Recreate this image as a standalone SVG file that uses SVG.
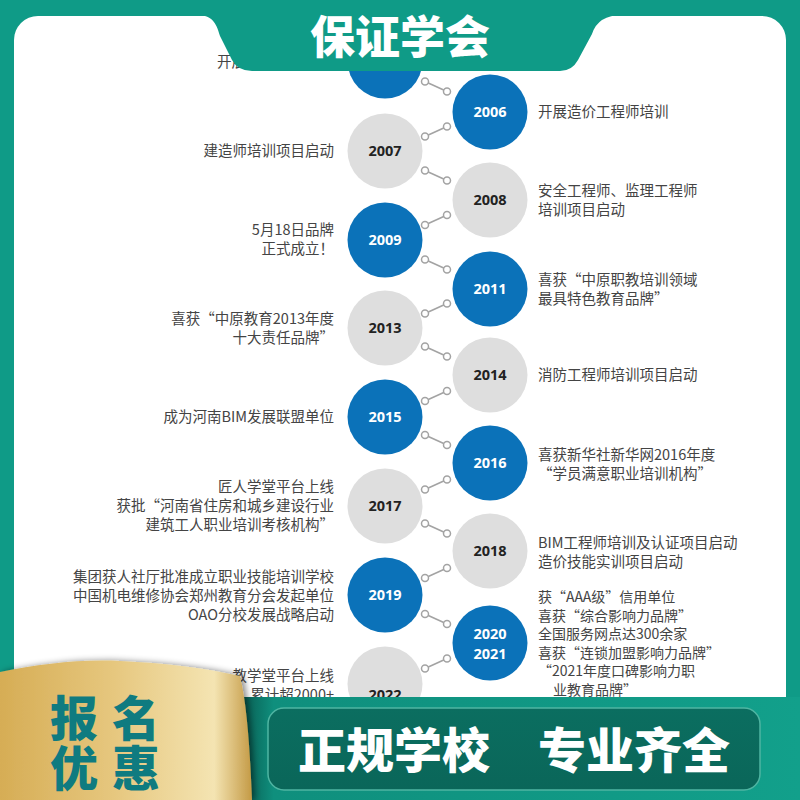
<svg xmlns="http://www.w3.org/2000/svg" width="800" height="800" viewBox="0 0 800 800">
<defs>
<style>
.t{font-family:"Noto Sans CJK SC","Noto Sans",sans-serif;font-size:14.5px;fill:#444}
.s{font-size:14px}
.l{text-anchor:end}
.y{font-family:"Open Sans","DejaVu Sans",sans-serif;font-size:14.5px;font-weight:700;text-anchor:middle}
.yb{fill:#fff}
.yg{fill:#222}
.cb{fill:#0b72b9}
.cg{fill:#dedede}
.lk line{stroke:#a3a3a3;stroke-width:1.6}
.lk circle{fill:#fff;stroke:#a3a3a3;stroke-width:1.5}
.big{font-family:"Noto Sans CJK SC",sans-serif;font-weight:900}
</style>
<linearGradient id="gold" x1="0" y1="0" x2="1" y2="0">
<stop offset="0" stop-color="#d6ad55"/>
<stop offset="0.45" stop-color="#e6c77e"/>
<stop offset="0.85" stop-color="#f4e4b2"/>
<stop offset="1" stop-color="#c49a45"/>
</linearGradient>
<linearGradient id="band" x1="0" y1="0" x2="1" y2="0">
<stop offset="0" stop-color="#08594f"/>
<stop offset="0.06" stop-color="#0f8f7d"/>
<stop offset="1" stop-color="#12a08b"/>
</linearGradient>
<linearGradient id="inner" x1="0" y1="0" x2="0" y2="1">
<stop offset="0" stop-color="#0b6e60"/>
<stop offset="1" stop-color="#0a6659"/>
</linearGradient>
<filter id="sh" x="-10%" y="-10%" width="130%" height="130%">
<feDropShadow dx="3" dy="0" stdDeviation="3" flood-color="#000" flood-opacity="0.45"/>
</filter>
</defs>

<rect x="0" y="0" width="800" height="800" fill="#0f9b87"/>
<rect x="14" y="16" width="772" height="820" rx="24" fill="#fff"/>

<g id="connectors" class="lk">
<g><line x1="425" y1="81.5" x2="447" y2="91.5"/><circle cx="425" cy="81.5" r="3.5"/><circle cx="447" cy="91.5" r="3.5"/></g>
<g><line x1="447" y1="126.5" x2="425" y2="136.5"/><circle cx="447" cy="126.5" r="3.5"/><circle cx="425" cy="136.5" r="3.5"/></g>
<g><line x1="425" y1="170.5" x2="447" y2="180.5"/><circle cx="425" cy="170.5" r="3.5"/><circle cx="447" cy="180.5" r="3.5"/></g>
<g><line x1="447" y1="215" x2="425" y2="225"/><circle cx="447" cy="215" r="3.5"/><circle cx="425" cy="225" r="3.5"/></g>
<g><line x1="425" y1="259.5" x2="447" y2="269.5"/><circle cx="425" cy="259.5" r="3.5"/><circle cx="447" cy="269.5" r="3.5"/></g>
<g><line x1="447" y1="303.5" x2="425" y2="313.5"/><circle cx="447" cy="303.5" r="3.5"/><circle cx="425" cy="313.5" r="3.5"/></g>
<g><line x1="425" y1="346.5" x2="447" y2="356.5"/><circle cx="425" cy="346.5" r="3.5"/><circle cx="447" cy="356.5" r="3.5"/></g>
<g><line x1="447" y1="391" x2="425" y2="401"/><circle cx="447" cy="391" r="3.5"/><circle cx="425" cy="401" r="3.5"/></g>
<g><line x1="425" y1="435" x2="447" y2="445"/><circle cx="425" cy="435" r="3.5"/><circle cx="447" cy="445" r="3.5"/></g>
<g><line x1="447" y1="479.5" x2="425" y2="489.5"/><circle cx="447" cy="479.5" r="3.5"/><circle cx="425" cy="489.5" r="3.5"/></g>
<g><line x1="425" y1="523.5" x2="447" y2="533.5"/><circle cx="425" cy="523.5" r="3.5"/><circle cx="447" cy="533.5" r="3.5"/></g>
<g><line x1="447" y1="568" x2="425" y2="578"/><circle cx="447" cy="568" r="3.5"/><circle cx="425" cy="578" r="3.5"/></g>
<g><line x1="425" y1="614" x2="447" y2="624"/><circle cx="425" cy="614" r="3.5"/><circle cx="447" cy="624" r="3.5"/></g>
<g><line x1="447" y1="658.5" x2="425" y2="668.5"/><circle cx="447" cy="658.5" r="3.5"/><circle cx="425" cy="668.5" r="3.5"/></g>
</g>

<g id="n2005"><circle class="cb" cx="385" cy="61" r="37.5"/><text class="t" x="217" y="67">开展</text></g>
<g id="n2006"><circle class="cb" cx="490" cy="112" r="37.5"/><text class="y yb" x="490" y="117">2006</text><text class="t" x="538" y="117">开展造价工程师培训</text></g>
<g id="n2007"><circle class="cg" cx="385" cy="151" r="37.5"/><text class="y yg" x="385" y="156">2007</text><text class="t l" x="334" y="156">建造师培训项目启动</text></g>
<g id="n2008"><circle class="cg" cx="490" cy="200" r="37.5"/><text class="y yg" x="490" y="205">2008</text><text class="t" x="538" y="196">安全工程师、监理工程师</text><text class="t" x="538" y="215">培训项目启动</text></g>
<g id="n2009"><circle class="cb" cx="385" cy="240" r="37.5"/><text class="y yb" x="385" y="245">2009</text><text class="t l" x="334" y="235">5月18日品牌</text><text class="t l" x="334" y="254">正式成立！</text></g>
<g id="n2011"><circle class="cb" cx="490" cy="289" r="37.5"/><text class="y yb" x="490" y="294">2011</text><text class="t" x="538" y="285">喜获“中原职教培训领域</text><text class="t" x="538" y="304">最具特色教育品牌”</text></g>
<g id="n2013"><circle class="cg" cx="385" cy="328" r="37.5"/><text class="y yg" x="385" y="333">2013</text><text class="t l" x="334" y="324">喜获“中原教育2013年度</text><text class="t l" x="334" y="343">十大责任品牌”</text></g>
<g id="n2014"><circle class="cg" cx="490" cy="375" r="37.5"/><text class="y yg" x="490" y="380">2014</text><text class="t" x="538" y="380">消防工程师培训项目启动</text></g>
<g id="n2015"><circle class="cb" cx="385" cy="417" r="37.5"/><text class="y yb" x="385" y="422">2015</text><text class="t l" x="334" y="422">成为河南BIM发展联盟单位</text></g>
<g id="n2016"><circle class="cb" cx="490" cy="463" r="37.5"/><text class="y yb" x="490" y="468">2016</text><text class="t" x="538" y="460">喜获新华社新华网2016年度</text><text class="t" x="538" y="479">“学员满意职业培训机构”</text></g>
<g id="n2017"><circle class="cg" cx="385" cy="506" r="37.5"/><text class="y yg" x="385" y="511">2017</text><text class="t l" x="334" y="492">匠人学堂平台上线</text><text class="t l" x="334" y="511">获批“河南省住房和城乡建设行业</text><text class="t l" x="334" y="530">建筑工人职业培训考核机构”</text></g>
<g id="n2018"><circle class="cg" cx="490" cy="551" r="37.5"/><text class="y yg" x="490" y="556">2018</text><text class="t" x="538" y="548">BIM工程师培训及认证项目启动</text><text class="t" x="538" y="567">造价技能实训项目启动</text></g>
<g id="n2019"><circle class="cb" cx="385" cy="595" r="37.5"/><text class="y yb" x="385" y="600">2019</text><text class="t l" x="334" y="582">集团获人社厅批准成立职业技能培训学校</text><text class="t l" x="334" y="601">中国机电维修协会郑州教育分会发起单位</text><text class="t l" x="334" y="620">OAO分校发展战略启动</text></g>
<g id="n2020"><circle class="cb" cx="490" cy="643" r="37.5"/><text class="y yb" x="490" y="639">2020</text><text class="y yb" x="490" y="659">2021</text><text class="t s" x="538" y="602">获“AAA级”信用单位</text><text class="t s" x="538" y="620.5">喜获“综合影响力品牌”</text><text class="t s" x="538" y="639">全国服务网点达300余家</text><text class="t s" x="538" y="657.5">喜获“连锁加盟影响力品牌”</text><text class="t s" x="538" y="676">“2021年度口碑影响力职</text><text class="t s" x="553" y="694.5">业教育品牌”</text></g>
<g id="n2022"><circle class="cg" cx="385" cy="684" r="37.5"/><text class="y yg" x="385" y="700">2022</text><text class="t l" x="334" y="681">教学堂平台上线</text><text class="t l" x="334" y="700">累计超2000+</text></g>

<g id="top-tab">
<path d="M196 15 C212 15 216 22 220 36 L232 60 Q238 71 252 71 L560 71 Q572 71 578 60 L592 34 Q598 15 622 15 Z" fill="#0f9b87"/>
<text class="big" x="400" y="54" text-anchor="middle" font-size="45" fill="#fff" font-weight="700">保证学会</text>
</g>

<g id="bottom-banner">
<rect x="240" y="697" width="560" height="103" fill="url(#band)"/>
<rect x="268" y="708" width="492" height="82" rx="16" fill="url(#inner)" stroke="#4fb5a2" stroke-width="1.5"/>
<text class="big" x="298" y="768" font-size="48" fill="#fff" font-weight="700">正规学校</text>
<text class="big" x="538" y="768" font-size="48" fill="#fff" font-weight="700">专业齐全</text>
</g>

<g id="flag">
<path d="M0 672 C40 664 80 659 120 661 C165 663 205 668 240 676 C247 705 250 750 252 800 L0 800 Z" fill="url(#gold)" filter="url(#sh)"/>
<text class="big" font-size="48" fill="#0f7b80" letter-spacing="14"><tspan x="50" y="736">报名</tspan><tspan x="50" y="786">优惠</tspan></text>
</g>
</svg>
